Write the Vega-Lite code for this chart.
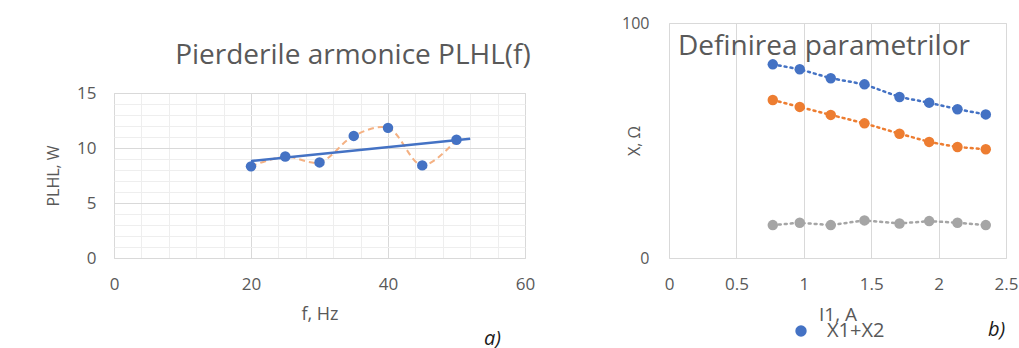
{
  "$schema": "https://vega.github.io/schema/vega-lite/v6.json",
  "padding": {"left": 44, "top": 14, "right": 0, "bottom": 0},
  "spacing": 85,
  "datasets": {
    "plhl": [
      {"f": 20, "P": 8.33},
      {"f": 25, "P": 9.22},
      {"f": 30, "P": 8.69},
      {"f": 35, "P": 11.1},
      {"f": 40, "P": 11.83},
      {"f": 45, "P": 8.42},
      {"f": 50, "P": 10.75}
    ],
    "params": [
      {"I": 0.77, "X": 82.4, "s": "X1+X2"},
      {"I": 0.97, "X": 80.3, "s": "X1+X2"},
      {"I": 1.20, "X": 76.5, "s": "X1+X2"},
      {"I": 1.45, "X": 73.9, "s": "X1+X2"},
      {"I": 1.71, "X": 68.5, "s": "X1+X2"},
      {"I": 1.93, "X": 66.1, "s": "X1+X2"},
      {"I": 2.14, "X": 63.3, "s": "X1+X2"},
      {"I": 2.35, "X": 61.1, "s": "X1+X2"},
      {"I": 0.77, "X": 67.2, "s": "X2"},
      {"I": 0.97, "X": 64.3, "s": "X2"},
      {"I": 1.20, "X": 60.9, "s": "X2"},
      {"I": 1.45, "X": 57.3, "s": "X2"},
      {"I": 1.71, "X": 52.9, "s": "X2"},
      {"I": 1.93, "X": 49.4, "s": "X2"},
      {"I": 2.14, "X": 47.2, "s": "X2"},
      {"I": 2.35, "X": 46.3, "s": "X2"},
      {"I": 0.77, "X": 14.0, "s": "X1"},
      {"I": 0.97, "X": 15.0, "s": "X1"},
      {"I": 1.20, "X": 14.0, "s": "X1"},
      {"I": 1.45, "X": 16.0, "s": "X1"},
      {"I": 1.71, "X": 14.7, "s": "X1"},
      {"I": 1.93, "X": 15.7, "s": "X1"},
      {"I": 2.14, "X": 15.0, "s": "X1"},
      {"I": 2.35, "X": 14.0, "s": "X1"}
    ]
  },
  "hconcat": [
    {
      "spacing": 0,
      "vconcat": [
        {
          "width": 411,
          "height": 1,
          "data": {"values": []},
          "mark": "point",
          "view": {"stroke": null}
        },
        {
          "width": 411,
          "height": 165,
          "data": {"name": "plhl"},
          "title": {
            "text": ["", "Pierderile armonice PLHL(f)"],
            "anchor": "end",
            "fontSize": 28,
            "fontWeight": "normal",
            "color": "#595959",
            "lineHeight": 17,
            "offset": 14,
            "dx": -4
          },
          "resolve": {"axis": {"x": "independent", "y": "independent"}},
          "layer": [
            {
              "mark": {"type": "line", "interpolate": "catmull-rom", "color": "#F4B183", "strokeWidth": 2, "strokeDash": [6, 4]},
              "encoding": {
                "x": {"field": "f", "type": "quantitative", "scale": {"domain": [0, 60], "nice": false},
                  "axis": {"orient": "bottom", "values": [4, 8, 12, 16, 24, 28, 32, 36, 44, 48, 52, 56], "grid": true, "gridColor": "#eeeeee", "labels": false, "title": "a)",
                    "titleFontStyle": "italic", "titleFontSize": 20, "titleColor": "#1a1a1a", "titleX": 378, "titleY": 80, "titleBaseline": "middle", "titleAlign": "center"}},
                "y": {"field": "P", "type": "quantitative", "scale": {"domain": [0, 15], "nice": false},
                  "axis": {"orient": "left", "values": [1, 2, 3, 4, 6, 7, 8, 9, 11, 12, 13, 14], "grid": true, "gridColor": "#eeeeee", "labels": false, "title": null}}
              }
            },
            {
              "transform": [{"regression": "P", "on": "f", "extent": [20, 52]}],
              "mark": {"type": "line", "color": "#4472C4", "strokeWidth": 2.5},
              "encoding": {
                "x": {"field": "f", "type": "quantitative",
                  "axis": {"orient": "bottom", "values": [0, 20, 40, 60], "grid": true, "labelFlush": false, "labelPadding": 18, "title": "f, Hz", "titleFontSize": 18, "titlePadding": 13}},
                "y": {"field": "P", "type": "quantitative",
                  "axis": {"orient": "left", "values": [0, 5, 10, 15], "grid": true, "labelPadding": 18, "title": "PLHL, W", "titleX": -53}}
              }
            },
            {
              "mark": {"type": "circle", "color": "#4472C4", "opacity": 1, "size": 110},
              "encoding": {
                "x": {"field": "f", "type": "quantitative", "axis": null},
                "y": {"field": "P", "type": "quantitative", "axis": null}
              }
            }
          ]
        }
      ]
    },
    {
      "width": 337,
      "height": 235,
      "data": {"name": "params"},
      "title": {
        "text": "Definirea parametrilor",
        "anchor": "start",
        "frame": "group",
        "fontSize": 28,
        "fontWeight": "normal",
        "color": "#595959",
        "offset": -46,
        "dx": 9
      },
      "resolve": {"axis": {"x": "independent"}},
      "layer": [
        {
          "mark": {"type": "line", "strokeWidth": 2.5, "strokeDash": [2, 4], "strokeCap": "round"},
          "encoding": {
            "x": {"field": "I", "type": "quantitative", "scale": {"domain": [0, 2.5], "nice": false},
              "axis": {"orient": "bottom", "values": [0, 0.5, 1, 1.5, 2, 2.5], "format": "~g", "grid": true, "labelFlush": false, "labelPadding": 18, "title": "I1, A", "titleFontSize": 19, "titleY": 56, "titleBaseline": "middle"}},
            "y": {"field": "X", "type": "quantitative", "scale": {"domain": [0, 100], "nice": false},
              "axis": {"orient": "left", "values": [0, 100], "grid": false, "labelPadding": 20, "labelFontSize": 16, "title": "X, Ω", "titleX": -27}},
            "color": {"field": "s", "type": "nominal", "scale": {"domain": ["X1+X2", "X2", "X1"], "range": ["#4472C4", "#ED7D31", "#A5A5A5"]},
              "legend": {"values": ["X1+X2"], "title": null, "orient": "none", "legendX": 677, "legendY": 298, "padding": 0, "symbolSize": 130, "symbolType": "circle", "symbolStrokeWidth": 0, "symbolFillColor": "#4472C4", "labelFontSize": 20, "labelColor": "#595959", "labelOffset": 16}},
            "detail": {"field": "s"}
          }
        },
        {
          "mark": {"type": "circle", "opacity": 1, "size": 110},
          "encoding": {
            "x": {"field": "I", "type": "quantitative",
              "axis": {"orient": "bottom", "grid": false, "labels": false, "title": "b)", "titleFontStyle": "italic", "titleFontSize": 20, "titleColor": "#1a1a1a", "titleX": 327, "titleY": 71, "titleBaseline": "middle", "titleAlign": "center"}},
            "y": {"field": "X", "type": "quantitative"},
            "color": {"field": "s", "type": "nominal"}
          }
        }
      ]
    }
  ],
  "config": {
    "font": "Open Sans",
    "view": {"stroke": "#d9d9d9"},
    "axis": {
      "labelColor": "#595959",
      "titleColor": "#595959",
      "labelFontSize": 17,
      "titleFontSize": 16,
      "titleFontWeight": "normal",
      "ticks": false,
      "domain": false,
      "gridColor": "#d9d9d9"
    }
  }
}
